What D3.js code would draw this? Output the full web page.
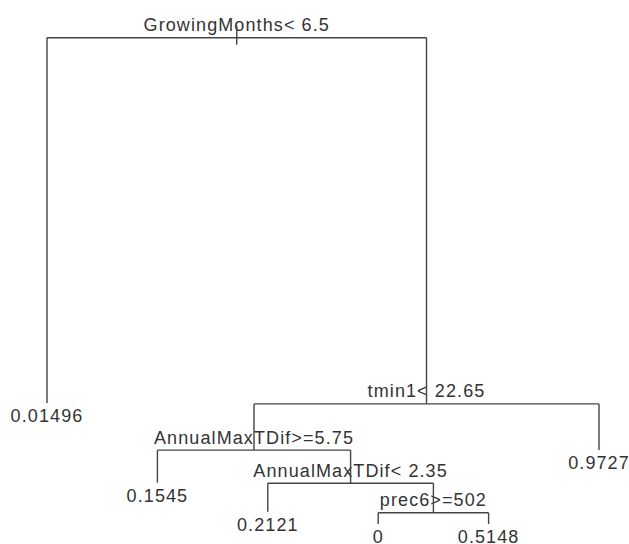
<!DOCTYPE html>
<html>
<head>
<meta charset="utf-8">
<script src="https://cdn.jsdelivr.net/npm/d3@7"></script>
<style>
  html, body { margin: 0; padding: 0; background: #fff; }
  svg { display: block; }
</style>
</head>
<body>
<svg id="chart"></svg>
<script>
// rpart node ids (parent = floor(id / 2)), labels and node heights (relative deviance)
const nodeIds = [1, 2, 3, 6, 12, 13, 26, 27, 54, 55, 7];
const nodeLabels = ["GrowingMonths< 6.5", "0.01496", "tmin1< 22.65", "AnnualMaxTDif>=5.75",
  "0.1545", "AnnualMaxTDif< 2.35", "0.2121", "prec6>=502", "0", "0.5148", "0.9727"];
const nodeHeights = [1.0, 0.249, 0.247, 0.152, 0.085, 0.0837, 0.0253, 0.0232, 0, 0, 0.152];

const width = 629, height = 544;

const svg = d3.select('#chart')
  .attr('width', width)
  .attr('height', height);

const table = nodeIds.map((id, i) => ({
  id: id,
  parent: id === 1 ? null : Math.floor(id / 2),
  label: nodeLabels[i],
  h: nodeHeights[i]
}));

const root = d3.stratify()
  .id(d => String(d.id))
  .parentId(d => d.parent === null ? null : String(d.parent))(table);

root.sort((a, b) => a.data.id - b.data.id);

const leaves = root.leaves();
const x = d3.scaleLinear().domain([1, leaves.length]).range([47, 599]);
const y = d3.scaleLinear().domain([0, 1]).range([524, 37.7]);

leaves.forEach((d, i) => { d.x = x(i + 1); });
root.eachAfter(d => {
  if (d.children) d.x = d3.mean(d.children, c => c.x);
  d.y = y(d.data.h);
});

const textStyle = sel => sel
  .attr('font-family', 'Liberation Sans, Arial, Helvetica, sans-serif')
  .attr('font-size', 18)
  .attr('letter-spacing', 1.1)
  .attr('fill', '#333')
  .attr('text-anchor', 'middle');

// split labels above, leaf labels below
svg.append('g').selectAll('text')
  .data(root.descendants())
  .join('text')
  .call(textStyle)
  .attr('x', d => d.x)
  .attr('y', d => d.children ? d.y - 6.5 : d.y + 19.3)
  .text(d => d.data.label);

const lines = svg.append('g')
  .attr('stroke', '#444')
  .attr('stroke-width', 1.4)
  .attr('fill', 'none');

const internal = root.descendants().filter(d => d.children);

// horizontal bar of every split
lines.selectAll('.hbar')
  .data(internal)
  .join('line')
  .attr('class', 'hbar')
  .attr('x1', d => d.children[0].x)
  .attr('x2', d => d.children[d.children.length - 1].x)
  .attr('y1', d => d.y)
  .attr('y2', d => d.y);

// vertical drop to each child
lines.selectAll('.vbar')
  .data(root.descendants().filter(d => d.parent))
  .join('line')
  .attr('class', 'vbar')
  .attr('x1', d => d.x)
  .attr('x2', d => d.x)
  .attr('y1', d => d.parent.y)
  .attr('y2', d => d.y);

// small tick at the root
lines.append('line')
  .attr('x1', root.x).attr('x2', root.x)
  .attr('y1', root.y - 12).attr('y2', root.y + 7);
</script>
</body>
</html>
